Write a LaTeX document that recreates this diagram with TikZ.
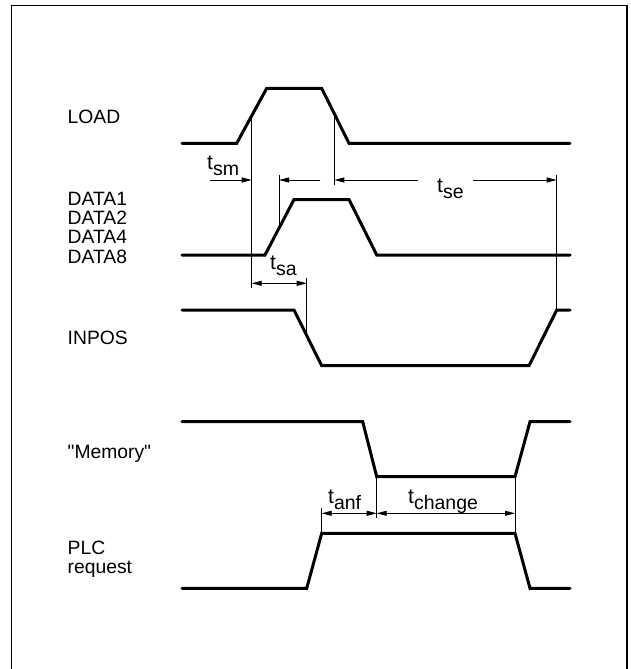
\documentclass[tikz,border=0pt]{standalone}
\usepackage{fontspec}
\setmainfont{Liberation Sans}
\newfontfamily\plainsans{Liberation Sans}
\usetikzlibrary{arrows.meta}
\newcommand{\tsub}[1]{t\raisebox{-6pt}{\fontsize{19.5}{19.5}\selectfont #1}}
\begin{document}
\begin{tikzpicture}[x=1pt,y=-1pt,
  sig/.style={line width=3pt, line cap=round, line join=miter},
  thinline/.style={line width=0.9pt},
  dimr/.style={line width=0.9pt, -{Triangle[length=10pt,width=5pt]}},
  dimb/.style={line width=0.9pt, {Triangle[length=10pt,width=5pt]}-{Triangle[length=10pt,width=5pt]}},
  lbl/.style={anchor=base west, inner sep=0pt, font=\fontsize{19.3}{19}\selectfont},
  tl/.style={anchor=base west, inner sep=0pt, font=\fontsize{21}{22}\selectfont}]
\useasboundingbox (0,0) rectangle (631,669);
\draw[line width=1.2pt] (11.5,669) -- (11.5,5.5) -- (627,5.5) -- (627,669);

% signal labels
\node[lbl] (lload) at (67.5,123.2) {LOAD};
\node[lbl] (ld1) at (67.5,205.9) {DATA1};
\node[lbl] (ld2) at (67.5,224.9) {DATA2};
\node[lbl] (ld4) at (67.5,243.9) {DATA4};
\node[lbl] (ld8) at (67.5,263.1) {DATA8};
\node[lbl] (linpos) at (67.5,344.8) {INPOS};
\node[lbl] (lmem) at (67.5,458.2) {\plainsans "Memory"};
\node[lbl] (lplc) at (67.5,554.8) {PLC};
\node[lbl] (lreq) at (67.5,573.8) {request};

% signals
\draw[sig] (182,143.3) -- (236.7,143.3) -- (266.7,88.3) -- (321.7,88.3) -- (349,143.3) -- (570,143.3);
\draw[sig] (182,255) -- (265,255) -- (294,199.5) -- (349,199.5) -- (376.7,255) -- (570,255);
\draw[sig] (182,310) -- (294,310) -- (321.7,365.7) -- (529,365.7) -- (556.7,310) -- (570,310);
\draw[sig] (182,421.7) -- (362.7,421.7) -- (376.7,476.7) -- (515,476.7) -- (530,421.7) -- (570,421.7);
\draw[sig] (182,588.3) -- (306.7,588.3) -- (321.7,533.3) -- (515,533.3) -- (530,588.3) -- (570,588.3);

% extension lines
\draw[thinline] (251.7,116) -- (251.7,288);
\draw[thinline] (279,175) -- (279,228);
\draw[thinline] (334.3,113.5) -- (334.3,185);
\draw[thinline] (556.7,175) -- (556.7,310);
\draw[thinline] (306.7,278) -- (306.7,335.5);
\draw[thinline] (321.7,508) -- (321.7,533.3);
\draw[thinline] (376.7,476.7) -- (376.7,518);
\draw[thinline] (515,476.7) -- (515,533.3);

% dimension arrows
\draw[dimr] (210,180) -- (251.7,180);
\draw[dimr] (320,180) -- (279,180);
\draw[dimr] (418,180) -- (334.3,180);
\draw[dimr] (473,180) -- (556.7,180);
\draw[dimb] (251.7,283.3) -- (306.7,283.3);
\draw[dimb] (321.7,513.3) -- (376.7,513.3);
\draw[dimb] (376.7,513.3) -- (515,513.3);

% time labels
\node[tl] (tsm) at (207,169) {\tsub{sm}};
\node[tl] (tse) at (437,192) {\tsub{se}};
\node[tl] (tsa) at (270,269.5) {\tsub{sa}};
\node[tl] (tanf) at (328,503.5) {\tsub{anf}};
\node[tl] (tchg) at (408,503.5) {\tsub{change}};
\end{tikzpicture}
\end{document}
